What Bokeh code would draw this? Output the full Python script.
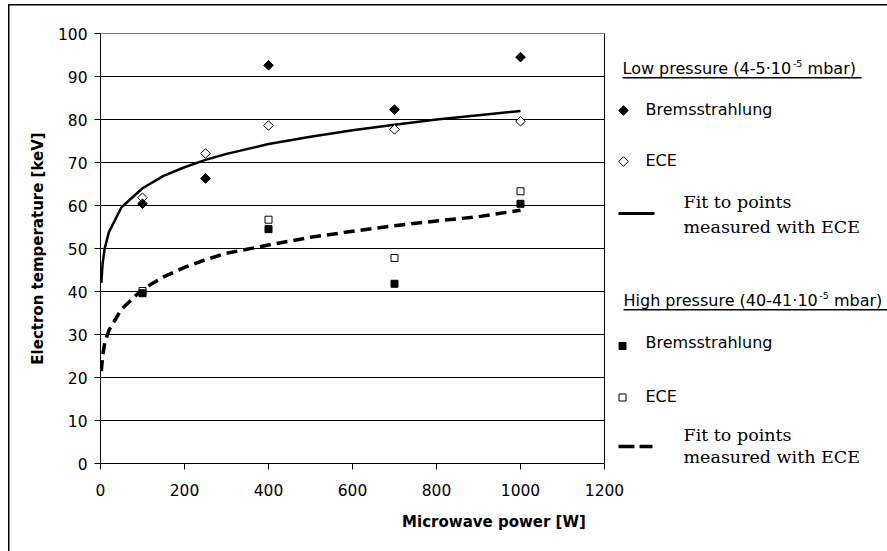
import numpy as np
from bokeh.plotting import figure
from bokeh.models import Range1d, FixedTicker
from bokeh.core.properties import value
from bokeh.embed import file_html
from bokeh.resources import INLINE

# ---------------- data ----------------
power = [100, 250, 400, 700, 1000]
low_brems = [60.4, 66.3, 92.6, 82.3, 94.5]
low_ece = [61.8, 72.1, 78.6, 77.7, 79.6]

high_power = [100, 400, 700, 1000]
high_brems = [39.6, 54.5, 41.8, 60.4]
high_ece = [40.1, 56.7, 47.8, 63.3]

fit_x = [2, 5, 10, 20, 50, 100, 150, 200, 250, 300, 400, 500, 600, 700, 800, 900, 1000]
low_fit = [42.0, 46.5, 50.0, 53.8, 59.6, 64.0, 66.9, 68.9, 70.6, 72.0, 74.3, 76.0, 77.5, 78.8, 80.0, 81.0, 82.0]
high_fit = [21.5, 25.0, 28.0, 31.0, 35.9, 40.5, 43.4, 45.6, 47.4, 48.9, 50.8, 52.6, 54.0, 55.3, 56.4, 57.4, 58.9]

x_ticks = [0, 200, 400, 600, 800, 1000, 1200]
y_ticks = [0, 10, 20, 30, 40, 50, 60, 70, 80, 90, 100]

x_title = "Microwave power [W]"
y_title = "Electron temperature [keV]"
low_header = ["Low pressure (4-5·10", "-5", "mbar)"]
high_header = ["High pressure (40-41·10", "-5", "mbar)"]
series_labels = ["Bremsstrahlung", "ECE"]
fit_label = ["Fit to points", "measured with ECE"]

# ---------------- layout constants (page pixels) ----------------
W, H = 887, 551
FRAME_L, FRAME_T, FRAME_B = 100, 33, 463
PLOT_R = 604                      # right edge of the data area (x = 1200)
X_MAX = x_ticks[-1]
x_end = X_MAX * (W - FRAME_L) / (PLOT_R - FRAME_L)

SANS = "DejaVu Sans"
SERIF = "DejaVu Serif"

p = figure(width=W, height=H, output_backend="svg", toolbar_location=None,
           x_range=Range1d(0, x_end), y_range=Range1d(y_ticks[0], y_ticks[-1]),
           min_border_left=FRAME_L, min_border_right=0, min_border_top=FRAME_T,
           min_border_bottom=H - FRAME_B,
           background_fill_color="white", border_fill_color="white", border_fill_alpha=0)
p.styles = {
    "background-image": "linear-gradient(#000, #000), linear-gradient(#000, #000)",
    "background-size": "1.5px 100%, 100% 1.5px",
    "background-position": "8px 4px, 8px 4px",
    "background-repeat": "no-repeat",
    "background-color": "white",
}
p.outline_line_color = None
p.extra_x_ranges = {"px": Range1d(FRAME_L, W)}
p.extra_y_ranges = {"py": Range1d(FRAME_B, FRAME_T)}

for ax in (p.xaxis[0], p.yaxis[0]):
    ax.axis_line_color = "black"
    ax.major_tick_line_color = "black"
    ax.minor_tick_line_color = None
    ax.major_tick_in = 0
    ax.major_tick_out = 6
    ax.major_label_text_font = SANS
    ax.major_label_text_font_size = "15.5px"
    ax.major_label_text_color = "black"
    ax.axis_label_text_font = SANS
    ax.axis_label_text_font_style = "bold"
    ax.axis_label_text_font_size = "15px"
    ax.axis_label_text_color = "black"

p.xaxis.ticker = FixedTicker(ticks=x_ticks)
p.yaxis.ticker = FixedTicker(ticks=y_ticks)
p.xaxis.bounds = (x_ticks[0], X_MAX)
p.xaxis.axis_label = x_title
p.yaxis.axis_label = y_title
p.xaxis.major_label_standoff = 14
p.xaxis.axis_label_standoff = 14
p.yaxis.major_label_standoff = 7
p.yaxis.axis_label_standoff = 8

p.xgrid.visible = False
p.ygrid.visible = False

# gridlines and plot-area border, limited to the data area
p.segment(x0=[x_ticks[0]] * len(y_ticks), x1=[X_MAX] * len(y_ticks), y0=y_ticks, y1=y_ticks,
          line_color="black", line_width=1)
p.segment(x0=[X_MAX], x1=[X_MAX], y0=[y_ticks[0]], y1=[y_ticks[-1]],
          line_color="black", line_width=1)

# ---------------- data glyphs ----------------
p.line(fit_x, low_fit, line_color="black", line_width=2.5)
p.line(fit_x, high_fit, line_color="black", line_width=3.5, line_dash="11 6")

DIA = dict(marker="square", angle=np.pi / 4, size=6.8, line_color="black", line_width=1)
SQ = dict(marker="square", size=7, line_color="black", line_width=1)
p.scatter(power, low_ece, fill_color="white", **DIA)
p.scatter(power, low_brems, fill_color="black", **DIA)
p.scatter(high_power, high_ece, fill_color="white", **SQ)
p.scatter(high_power, high_brems, fill_color="black", **SQ)

# ---------------- legend (drawn in page-pixel ranges) ----------------
PX = dict(x_range_name="px", y_range_name="py")


def text(t, x, baseline, size, font=SANS):
    # rendered text sits ~0.36 em below the requested baseline; compensate
    p.text(x=[x], y=[baseline - 0.36 * size], text=[t], text_font=value(font),
           text_font_size=f"{size}px", text_color="black", text_align="left",
           text_baseline="alphabetic", **PX)


def seg(x0, x1, y, w, dash="solid"):
    p.segment(x0=[x0], x1=[x1], y0=[y], y1=[y], line_color="black", line_width=w,
              line_dash=dash, **PX)


def header(parts, x, y, em1):
    w1 = 16 * em1
    text(parts[0], x, y, 16)
    text(parts[1], x + w1 + 0.8, y - 7.5, 9.5)
    text(parts[2], x + w1 + 15.5, y, 16)
    seg(x, x + w1 + 15.5 + 54, y + 3.3, 1.4)


# low pressure block
header(low_header, 622, 74, 10.599)
p.scatter([623], [110], fill_color="black", **DIA, **PX)
text(series_labels[0], 645, 115, 16)
p.scatter([623], [161], fill_color="white", **DIA, **PX)
text(series_labels[1], 645, 166, 16)
seg(618, 654, 213, 3)
text(fit_label[0], 683, 208, 17.5, SERIF)
text(fit_label[1], 683, 233, 17.5, SERIF)

# high pressure block
header(high_header, 623, 306, 12.183)
p.scatter([622], [345.5], fill_color="black", **SQ, **PX)
text(series_labels[0], 645, 348, 16)
p.scatter([622], [397], fill_color="white", **SQ, **PX)
text(series_labels[1], 645, 402, 16)
seg(618, 634, 446, 3.5)
seg(639, 652, 446, 3.5)
text(fit_label[0], 683, 440.5, 17.5, SERIF)
text(fit_label[1], 683, 462.5, 17.5, SERIF)

open("out.html", "w").write(file_html(p, INLINE))
